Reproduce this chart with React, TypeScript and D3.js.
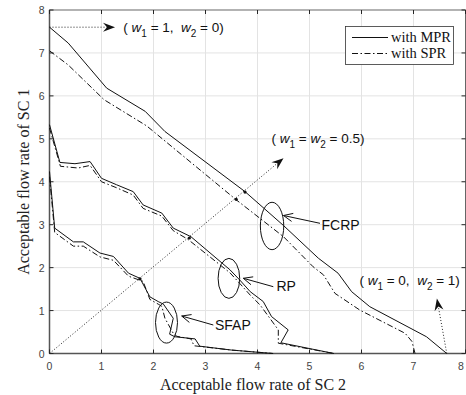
import React, { useEffect, useRef } from 'react';
import * as d3 from 'd3';

type Pt = [number, number];

// FCRP
const fcrpMPR: Pt[] = [[0, 7.6], [0.36, 7.23], [1.1, 6.18], [1.84, 5.64], [2.22, 5.17], [3.76, 3.77], [4.5, 2.98], [5.17, 2.22], [5.55, 1.87], [5.81, 1.44], [6.16, 1.09], [7.25, 0.39], [7.64, 0]];
const fcrpSPR: Pt[] = [[0, 7.05], [0.36, 6.72], [1.05, 5.91], [1.87, 5.3], [3.59, 3.58], [4.5, 2.72], [5.07, 2.02], [5.27, 1.83], [5.49, 1.4], [5.97, 1.01], [6.84, 0.47], [6.97, 0.28], [7.03, 0]];
// RP
const rpMPR: Pt[] = [[0, 5.33], [0.2, 4.45], [0.49, 4.42], [0.78, 4.47], [1.0, 4.08], [1.29, 3.93], [1.61, 3.77], [1.8, 3.46], [2.16, 3.27], [2.38, 2.92], [2.72, 2.72], [3.47, 1.95], [3.66, 1.71], [3.86, 1.44], [4.11, 1.21], [4.27, 0.86], [4.59, 0.55], [4.45, 0.25], [5.47, 0]];
const rpSPR: Pt[] = [[0, 5.25], [0.21, 4.36], [0.55, 4.32], [0.78, 4.38], [1.0, 4.0], [1.29, 3.86], [1.61, 3.69], [1.8, 3.38], [2.16, 3.2], [2.38, 2.86], [2.66, 2.66], [3.47, 1.88], [3.66, 1.63], [3.86, 1.36], [4.05, 1.13], [4.25, 0.8], [4.4, 0.55], [4.4, 0.24], [5.47, 0]];
// SFAP
const sfapMPR: Pt[] = [[0, 4.24], [0.1, 2.92], [0.46, 2.6], [0.65, 2.6], [0.97, 2.34], [1.23, 2.26], [1.52, 1.87], [1.74, 1.75], [1.93, 1.32], [2.09, 1.21], [2.19, 1.15], [2.38, 0.82], [2.31, 0.45], [2.41, 0.39], [2.8, 0.34], [2.89, 0.17], [3.5, 0.08], [4.3, 0]];
const sfapSPR: Pt[] = [[0, 4.12], [0.1, 2.82], [0.46, 2.5], [0.65, 2.5], [0.97, 2.25], [1.23, 2.17], [1.52, 1.8], [1.8, 1.68], [1.93, 1.26], [2.09, 1.15], [2.16, 1.1], [2.22, 0.82], [2.38, 0.47], [2.45, 0.4], [2.72, 0.34], [2.78, 0.18], [3.5, 0.08], [4.3, 0]];

// intersections with the w1 = w2 line
const crossDots: Pt[] = [[1.74, 1.74], [2.69, 2.69], [3.59, 3.59], [3.76, 3.76]];

const xTicks = [0, 1, 2, 3, 4, 5, 6, 7, 8];
const yTicks = [0, 1, 2, 3, 4, 5, 6, 7, 8];

const App: React.FC = () => {
    const svgRef = useRef<SVGSVGElement | null>(null);
    const width = 466;
    const height = 395;

    useEffect(() => {
        const margin = { top: 10, right: 0.5, bottom: 41.5, left: 49.5 };
        const svg = d3.select(svgRef.current);
        svg.selectAll('*').remove();

        const x = d3.scaleLinear().domain([0, 8]).range([margin.left, width - margin.right]);
        const y = d3.scaleLinear().domain([0, 8]).range([height - margin.bottom, margin.top]);
        const x0 = x(0), x1 = x(8), y0 = y(0), y1 = y(8);

        svg.append('rect').attr('width', width).attr('height', height).attr('fill', 'white');

        // grid
        const grid = svg.append('g').attr('stroke', '#e3e3e3').attr('stroke-width', 1);
        xTicks.slice(1, -1).forEach(t => {
            grid.append('line').attr('x1', x(t)).attr('x2', x(t)).attr('y1', y0).attr('y2', y1);
        });
        yTicks.slice(1, -1).forEach(t => {
            grid.append('line').attr('x1', x0).attr('x2', x1).attr('y1', y(t)).attr('y2', y(t));
        });

        // frame + ticks
        const frame = svg.append('g').attr('stroke', '#262626').attr('fill', 'none');
        frame.append('rect').attr('x', x0).attr('y', y1).attr('width', x1 - x0).attr('height', y0 - y1).attr('stroke-width', 0.7);
        frame.append('line').attr('x1', x0).attr('x2', x0).attr('y1', y0).attr('y2', y1).attr('stroke', '#555').attr('stroke-width', 1.5);
        frame.append('line').attr('x1', x0).attr('x2', x1).attr('y1', y0).attr('y2', y0).attr('stroke', '#555').attr('stroke-width', 1.5);
        xTicks.forEach(t => {
            frame.append('line').attr('x1', x(t)).attr('x2', x(t)).attr('y1', y0).attr('y2', y0 - 4);
            frame.append('line').attr('x1', x(t)).attr('x2', x(t)).attr('y1', y1).attr('y2', y1 + 4);
        });
        yTicks.forEach(t => {
            frame.append('line').attr('x1', x0).attr('x2', x0 + 4).attr('y1', y(t)).attr('y2', y(t));
            frame.append('line').attr('x1', x1).attr('x2', x1 - 4).attr('y1', y(t)).attr('y2', y(t));
        });

        const tickFont = '"Liberation Sans", Arial, sans-serif';
        svg.append('g').selectAll('text').data(xTicks).join('text')
            .attr('x', d => Math.min(x(d), 461)).attr('y', y0 + 16)
            .attr('text-anchor', 'middle').attr('font-family', tickFont).attr('font-size', 10.5).attr('fill', '#444')
            .text(d => d);
        svg.append('g').selectAll('text').data(yTicks).join('text')
            .attr('x', x0 - 5).attr('y', d => y(d) + 4)
            .attr('text-anchor', 'end').attr('font-family', tickFont).attr('font-size', 10.5).attr('fill', '#444')
            .text(d => d);

        // axis labels
        const serif = '"Liberation Serif", "Times New Roman", serif';
        svg.append('text').attr('x', 253).attr('y', 390)
            .attr('text-anchor', 'middle').attr('font-family', serif).attr('font-size', 16).attr('fill', '#222')
            .text('Acceptable flow rate of SC 2');
        svg.append('text').attr('transform', `translate(29,${(y0 + y1) / 2}) rotate(-90)`)
            .attr('text-anchor', 'middle').attr('font-family', serif).attr('font-size', 16).attr('fill', '#222')
            .text('Acceptable flow rate of SC 1');

        // curves
        const line = d3.line<Pt>().x(d => x(d[0])).y(d => y(d[1]));
        const curves = svg.append('g').attr('fill', 'none').attr('stroke', '#111').attr('stroke-width', 1);
        [fcrpMPR, rpMPR, sfapMPR].forEach(s => curves.append('path').attr('d', line(s)!));
        [fcrpSPR, rpSPR, sfapSPR].forEach(s => curves.append('path').attr('d', line(s)!).attr('stroke-dasharray', '6,2.5,1.5,2.5'));

        // dotted weight lines with filled arrowheads
        const dots = svg.append('g');
        const dart = (xa: number, ya: number, xb: number, yb: number) => {
            const ang = Math.atan2(yb - ya, xb - xa);
            const len = 12, half = 4.5, back = 8;
            const ux = Math.cos(ang), uy = Math.sin(ang);
            const bx = xb - ux * len, by = yb - uy * len;
            const nx = xb - ux * back, ny = yb - uy * back;
            dots.append('line').attr('x1', xa).attr('y1', ya).attr('x2', nx).attr('y2', ny)
                .attr('stroke', '#222').attr('stroke-width', 1).attr('stroke-dasharray', '1,2');
            dots.append('path')
                .attr('d', `M${xb},${yb}L${bx - uy * half},${by + ux * half}L${nx},${ny}L${bx + uy * half},${by - ux * half}Z`)
                .attr('fill', '#111');
        };
        dart(x(0), y(7.6), x(1.26), y(7.6));
        dart(x(0), y(0), x(4.5), y(4.55));
        dart(x(7.64), y(0), x(7.45), y(1.28));

        dots.selectAll('circle').data(crossDots).join('circle')
            .attr('cx', d => x(d[0])).attr('cy', d => y(d[1])).attr('r', 1.6).attr('fill', '#111');

        // weight labels
        const wLabel = (px: number, py: number, parts: [string, string][]) => {
            const t = svg.append('text').attr('x', px).attr('y', py)
                .attr('font-family', tickFont).attr('font-size', 13.5).attr('fill', '#111')
                .attr('xml:space', 'preserve').style('white-space', 'pre');
            parts.forEach(([kind, s]) => {
                const sp = t.append('tspan').text(s);
                if (kind === 'i') sp.attr('font-style', 'italic');
                if (kind === 's') sp.attr('font-size', 10).attr('dy', 5);
                if (kind === 'r') sp.attr('dy', -5);
            });
        };
        wLabel(x(1.42), y(7.48), [['n', '( '], ['i', 'w'], ['s', '1'], ['r', ' = 1,  '], ['i', 'w'], ['s', '2'], ['r', ' = 0)']]);
        wLabel(x(4.27), y(4.9), [['n', '( '], ['i', 'w'], ['s', '1'], ['r', ' = '], ['i', 'w'], ['s', '2'], ['r', ' = 0.5)']]);
        wLabel(x(5.96), y(1.6), [['n', '( '], ['i', 'w'], ['s', '1'], ['r', ' = 0,  '], ['i', 'w'], ['s', '2'], ['r', ' = 1)']]);

        // legend
        const lg = svg.append('g');
        lg.append('rect').attr('x', 345.5).attr('y', 26.5).attr('width', 108).attr('height', 38)
            .attr('fill', 'white').attr('stroke', '#333').attr('stroke-width', 0.8);
        const legendItems: [string, string | null][] = [['with MPR', null], ['with SPR', '6,2.5,1.5,2.5']];
        legendItems.forEach(([label, dash], i) => {
            const ly = 37.5 + i * 16;
            const l = lg.append('line').attr('x1', 352).attr('x2', 388).attr('y1', ly).attr('y2', ly)
                .attr('stroke', '#111').attr('stroke-width', 1);
            if (dash) l.attr('stroke-dasharray', dash);
            lg.append('text').attr('x', 391).attr('y', ly + 4.5)
                .attr('font-family', serif).attr('font-size', 14.5).attr('fill', '#111').text(label);
        });

        // ellipses + labelled arrows
        const notes: { cx: number; cy: number; rx: number; ry: number; label: string; tx: number; ty: number }[] = [
            { cx: 4.28, cy: 2.97, rx: 11.7, ry: 23.7, label: 'FCRP', tx: 321.5, ty: 229.5 },
            { cx: 3.45, cy: 1.75, rx: 10.8, ry: 20, label: 'RP', tx: 276.5, ty: 291 },
            { cx: 2.25, cy: 0.72, rx: 11, ry: 20.5, label: 'SFAP', tx: 215, ty: 329.5 },
        ];
        const arrowPx: [Pt, Pt][] = [
            [[320, 223.3], [283.5, 215.5]],
            [[273.3, 286.7], [243.3, 278.3]],
            [[213.3, 325], [181.7, 316]],
        ];
        const ann = svg.append('g').attr('stroke', '#111').attr('fill', 'none').attr('stroke-width', 1);
        notes.forEach((n, i) => {
            ann.append('ellipse').attr('cx', x(n.cx)).attr('cy', y(n.cy)).attr('rx', n.rx).attr('ry', n.ry);
            const [[ax, ay], [bx, by]] = arrowPx[i];
            ann.append('line').attr('x1', ax).attr('y1', ay).attr('x2', bx).attr('y2', by);
            const ang = Math.atan2(by - ay, bx - ax);
            const hl = 10, spread = 0.42;
            ann.append('path').attr('d',
                `M${bx - hl * Math.cos(ang - spread)},${by - hl * Math.sin(ang - spread)}L${bx},${by}L${bx - hl * Math.cos(ang + spread)},${by - hl * Math.sin(ang + spread)}`);
            svg.append('text').attr('x', n.tx).attr('y', n.ty)
                .attr('font-family', tickFont).attr('font-size', 14).attr('fill', '#111').text(n.label);
        });
    }, []);

    return (
        <svg ref={svgRef} width={width} height={height}
            style={{ position: 'absolute', left: 0, top: 0, display: 'block' }} />
    );
};

export default App;
